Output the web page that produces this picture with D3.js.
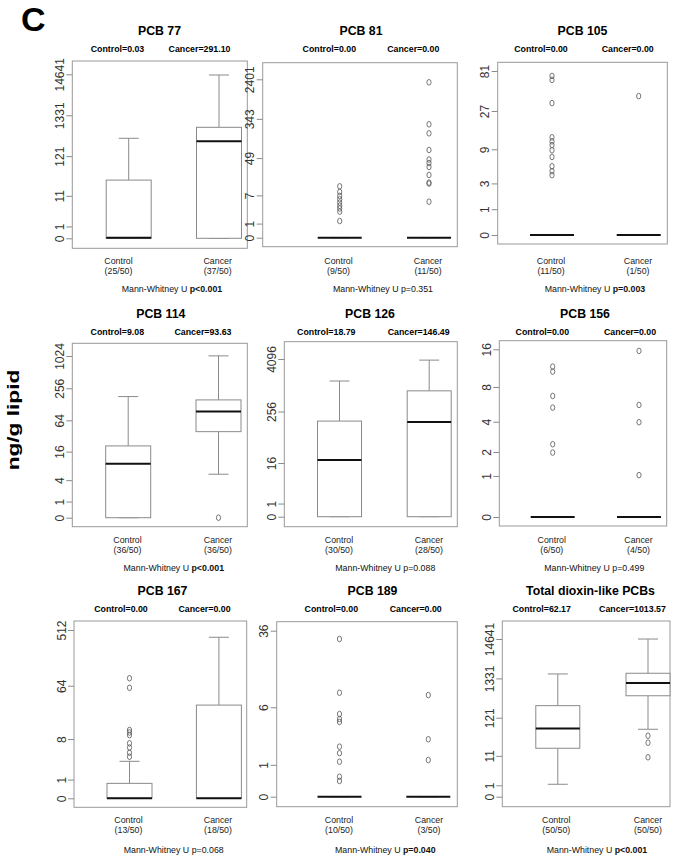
<!DOCTYPE html>
<html><head><meta charset="utf-8">
<script src="https://cdn.jsdelivr.net/npm/d3@7"></script>
<style>
body{margin:0;background:#fff}
svg{display:block}
text{font-family:"Liberation Sans",Arial,Helvetica,sans-serif}
</style>
</head><body>
<svg id="c" width="676" height="856"></svg>
<script>
// ---------------- DATA ----------------
const titles = ["PCB 77","PCB 81","PCB 105","PCB 114","PCB 126","PCB 156","PCB 167","PCB 189","Total dioxin-like PCBs"];
const groups = ["Control","Cancer"];
const detected = [["25/50","37/50"],["9/50","11/50"],["11/50","1/50"],["36/50","36/50"],["30/50","28/50"],["6/50","4/50"],["13/50","18/50"],["10/50","3/50"],["50/50","50/50"]];
// medians (ng/g lipid) – also shown in the header line
const medians = [[0.03,291.10],[0,0],[0,0],[9.08,93.63],[18.79,146.49],[0,0],[0,0],[0,0],[62.17,1013.57]];
const q1s = [[0,0],[0,0],[0,0],[0,39],[0,0],[0,0],[0,0],[0,0],[18.05,463]];
const q3s = [[29.1,658],[0,0],[0,0],[20.7,155],[154,763],[0,0],[0.74,30.7],[0,0],[253,1822]];
const lowWhisker = [[0,0],[0,0],[0,0],[0,5.45],[0,0],[0,0],[0,0],[0,0],[1.13,59.4]];
const highWhisker = [[346,14050],[0,0],[0,0],[179,1030],[1282,3862],[0,0],[2.94,391],[0,0],[1747,14600]];
const outliers = [
  [[],[]],
  [[1.27,2.6,3.2,3.8,4.6,5.6,6.8,8.5,11.5],[4.87,13.3,14.0,20.8,31.3,38.2,45.7,73.4,168,262,2071]],
  [[3.99,4.56,5.35,7.15,8.75,10.2,11.4,12.8,33.6,63.6,70.8],[40.8]],
  [[],[0]],
  [[],[]],
  [[1.97,2.42,5.35,6.73,10.66,11.7],[1.03,3.96,5.64,15.55]],
  [[3.67,4.42,5.56,6.69,9.4,10.5,11.6,59.2,84.6],[]],
  [[0.408,0.545,1.14,1.58,1.97,4.08,4.42,5.04,8.60,29.9],[1.22,2.49,8.12]],
  [[],[10,25.7,39.9]]
];
const tickValues = [
  [0,1,11,121,1331,14641],
  [0,1,7,49,343,2401],
  [0,1,3,9,27,81],
  [0,1,4,16,64,256,1024],
  [0,1,16,256,4096],
  [0,1,2,4,8,16],
  [0,1,8,64,512],
  [0,1,6,36],
  [0,1,11,121,1331,14641]
];
const pTexts = ["p<0.001","p=0.351","p=0.003","p<0.001","p=0.088","p=0.499","p=0.068","p=0.040","p<0.001"];
const pBold = [true,false,true,true,false,false,false,true,true];

// ---------------- LAYOUT ----------------
const layout = [
  {x0:72.3,x1:247.3,top:61,bottom:248.3,zeroY:238.3,topY:74.3,box:[128.7,219],lab:[118.5,217.7],sub:[117.5,199.5],title:159.5,p:172,bw:45},
  {x0:262.7,x1:457.3,top:62.7,bottom:246.7,zeroY:237.7,topY:79.3,box:[339.7,429],lab:[338.5,428],sub:[329.3,413.3],title:361,p:383,bw:44},
  {x0:497.7,x1:667.3,top:62.3,bottom:244,zeroY:235,topY:71,box:[552,638.7],lab:[551,638],sub:[541,627.7],title:582.5,p:595,bw:44},
  {x0:72.3,x1:247.3,top:343.3,bottom:526.7,zeroY:517.7,topY:356,box:[128.2,218.5],lab:[127.5,218],sub:[117.3,203],title:160.8,p:173.8,bw:45},
  {x0:284.3,x1:457.3,top:341.7,bottom:526.7,zeroY:516.7,topY:359,box:[339.5,429.2],lab:[339,429],sub:[326.3,418.7],title:370,p:385.3,bw:44},
  {x0:499.3,x1:666.7,top:340.7,bottom:526,zeroY:517,topY:349.3,box:[552.7,639],lab:[551.8,638.5],sub:[542.3,630],title:585,p:594.3,bw:44},
  {x0:74,x1:246.7,top:621,bottom:807.3,zeroY:798.3,topY:630,box:[129.5,218.9],lab:[128.5,218],sub:[121,204.5],title:162.5,p:173.7,bw:45},
  {x0:276.7,x1:457.3,top:621.7,bottom:806.7,zeroY:796.7,topY:630.7,box:[339.5,428.3],lab:[339,429],sub:[331.3,415.7],title:372.5,p:385.3,bw:44},
  {x0:502.3,x1:670,top:621,bottom:806.7,zeroY:796.7,topY:639,box:[557.8,648],lab:[556.3,648],sub:[541.7,632.5],title:590.5,p:597,bw:44}
];
const rowText = [
  {title:35,sub:52,lab1:263.5,lab2:273.5,p:292},
  {title:318,sub:335,lab1:543.3,lab2:553.3,p:571},
  {title:595,sub:612,lab1:823.3,lab2:833.3,p:853}
];

const GRAY = "#8a8a8a";
const svg = d3.select("#c");

svg.append("text").attr("x",21).attr("y",31).attr("font-size",34).attr("font-weight","bold").text("C");
svg.append("text").attr("transform","translate(19,420) rotate(-90) scale(1.08,0.82)").attr("text-anchor","middle")
  .attr("font-size",21).attr("font-weight","bold").text("ng/g lipid");

titles.forEach((t,i)=>{
  const L = layout[i], R = rowText[Math.floor(i/3)];
  const g = svg.append("g");
  const y = d3.scaleSymlog().constant(1).domain([0, d3.max(tickValues[i])]).range([L.zeroY, L.topY]);
  const x = d3.scaleOrdinal().domain(groups).range(L.box);

  // frame
  g.append("rect").attr("x",L.x0).attr("y",L.top).attr("width",L.x1-L.x0).attr("height",L.bottom-L.top)
    .attr("fill","none").attr("stroke","#999").attr("stroke-width",1);

  // axis
  const ax = g.append("g").attr("transform",`translate(${L.x0},0)`)
    .call(d3.axisLeft(y).tickValues(tickValues[i]).tickSize(6).tickFormat(d=>String(d)));
  ax.select(".domain").remove();
  ax.selectAll(".tick line").attr("stroke",GRAY);
  ax.selectAll(".tick text").attr("x",null).attr("dy",null).attr("text-anchor","middle")
    .attr("transform","translate(-8.5,0) rotate(-90)").attr("font-size",12).attr("fill","#333")
    .attr("font-family",'"Liberation Sans",Arial,sans-serif');

  // titles
  g.append("text").attr("x",L.title).attr("y",R.title).attr("text-anchor","middle")
    .attr("font-size",12.3).attr("font-weight","bold").text(t);
  groups.forEach((grp,j)=>{
    g.append("text").attr("x",L.sub[j]).attr("y",R.sub).attr("text-anchor","middle")
      .attr("font-size",8.8).attr("font-weight","bold").text(`${grp}=${medians[i][j].toFixed(2)}`);
    g.append("text").attr("x",L.lab[j]).attr("y",R.lab1).attr("text-anchor","middle")
      .attr("font-size",8.8).attr("fill","#222").text(grp);
    g.append("text").attr("x",L.lab[j]).attr("y",R.lab2).attr("text-anchor","middle")
      .attr("font-size",8.8).attr("fill","#222").text(`(${detected[i][j]})`);

    const cx = x(grp), hw = L.bw/2, cap = 10;
    const q1 = q1s[i][j], q3 = q3s[i][j], lo = lowWhisker[i][j], hi = highWhisker[i][j], md = medians[i][j];
    // whiskers
    g.append("line").attr("x1",cx).attr("x2",cx).attr("y1",y(q3)).attr("y2",y(hi)).attr("stroke",GRAY);
    g.append("line").attr("x1",cx).attr("x2",cx).attr("y1",y(q1)).attr("y2",y(lo)).attr("stroke",GRAY);
    g.append("line").attr("x1",cx-cap).attr("x2",cx+cap).attr("y1",y(hi)).attr("y2",y(hi)).attr("stroke",GRAY);
    g.append("line").attr("x1",cx-cap).attr("x2",cx+cap).attr("y1",y(lo)).attr("y2",y(lo)).attr("stroke",GRAY);
    // box
    g.append("rect").attr("x",cx-hw).attr("width",L.bw).attr("y",y(q3)).attr("height",Math.max(0,y(q1)-y(q3)))
      .attr("fill","#fff").attr("stroke",GRAY);
    // median
    g.append("line").attr("x1",cx-hw).attr("x2",cx+hw).attr("y1",y(md)).attr("y2",y(md))
      .attr("stroke","#111").attr("stroke-width",2);
    // outliers
    g.selectAll(null).data(outliers[i][j]).enter().append("ellipse")
      .attr("cx",cx).attr("cy",d=>y(d)).attr("rx",2.1).attr("ry",2.8)
      .attr("fill","none").attr("stroke","#555").attr("stroke-width",0.8);
  });
  const pt = g.append("text").attr("x",L.p).attr("y",R.p).attr("text-anchor","middle").attr("font-size",8.8).attr("fill","#111");
  pt.append("tspan").text("Mann-Whitney U ");
  pt.append("tspan").attr("font-weight",pBold[i]?"bold":"normal").text(pTexts[i]);
});
</script>
</body></html>
